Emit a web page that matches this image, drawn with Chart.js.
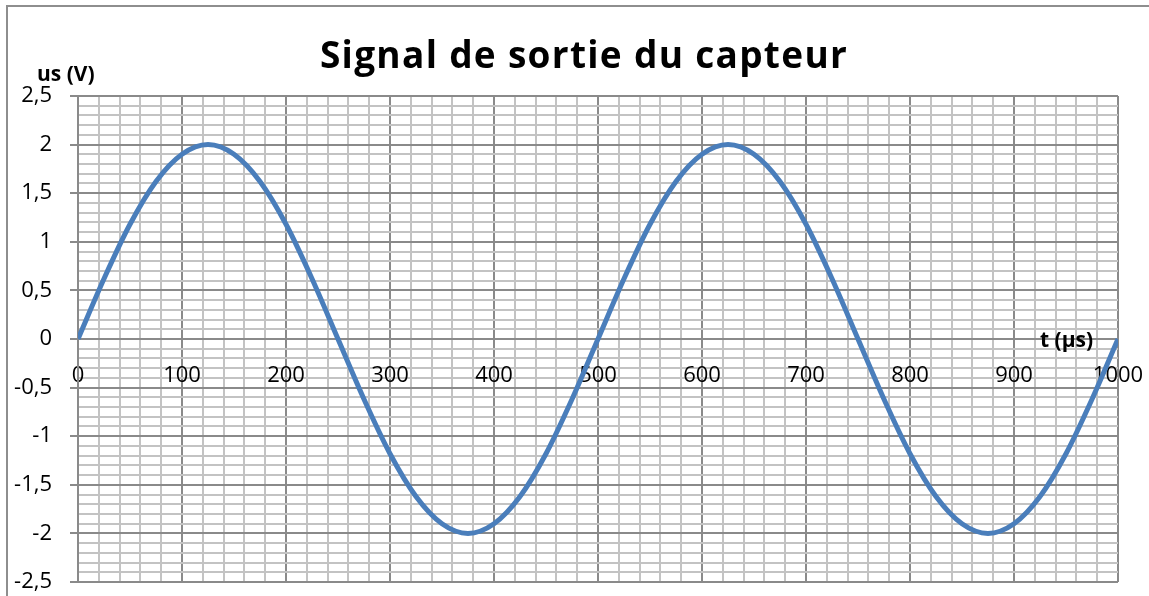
<!DOCTYPE html>
<html lang="fr">
<head>
    <meta charset="UTF-8">
    <title>Signal de sortie du capteur</title>
    <script src="https://cdn.jsdelivr.net/npm/chart.js"></script>
    <style>
        html, body { margin: 0; padding: 0; background: #fff; overflow: hidden; }
        #frame {
            position: absolute; left: 6px; top: 5px; width: 1200px; height: 700px;
            border-left: 2px solid #8e8e8e; border-top: 2px solid #8e8e8e;
        }
        #signal-chart { position: absolute; left: 0; top: 0; }
    </style>
</head>
<body>
    <div id="frame"></div>
    <canvas id="signal-chart" width="1149" height="596"></canvas>

    <script>
        // Temps (µs) et tension (V)
        const tValues = [0, 25, 50, 75, 100, 125, 150, 175, 200, 225,
                         250, 275, 300, 325, 350, 375, 400, 425, 450, 475,
                         500, 525, 550, 575, 600, 625, 650, 675, 700, 725,
                         750, 775, 800, 825, 850, 875, 900, 925, 950, 975, 1000];
        const usValues = [0, 0.62, 1.18, 1.62, 1.90, 2.00, 1.90, 1.62, 1.18, 0.62,
                          0, -0.62, -1.18, -1.62, -1.90, -2.00, -1.90, -1.62, -1.18, -0.62,
                          0, 0.62, 1.18, 1.62, 1.90, 2.00, 1.90, 1.62, 1.18, 0.62,
                          0, -0.62, -1.18, -1.62, -1.90, -2.00, -1.90, -1.62, -1.18, -0.62, 0];

        const chartTitle = 'Signal de sortie du capteur';
        const yAxisLabel = 'us (V)';
        const xAxisLabel = 't (µs)';

        const MAJOR = '#8a8a8a';
        const MINOR = '#c3c3c3';
        const FONT = '"Open Sans", "Noto Sans", sans-serif';

        // titre + noms des axes, placés comme dans Excel
        const labelsPlugin = {
            id: 'labels',
            afterDraw(chart) {
                const ctx = chart.ctx;
                ctx.save();
                ctx.fillStyle = '#000';
                ctx.textBaseline = 'alphabetic';
                ctx.font = 'bold 37px ' + FONT;
                ctx.letterSpacing = '1.3px';
                ctx.textAlign = 'center';
                ctx.fillText(chartTitle, 584, 68);
                ctx.letterSpacing = '0px';
                ctx.font = 'bold 21px ' + FONT;
                ctx.textAlign = 'left';
                ctx.fillText(yAxisLabel, 37, 81);
                ctx.fillText(xAxisLabel, 1040, 347);
                ctx.restore();
            }
        };

        const points = tValues.map((t, i) => ({ x: t, y: usValues[i] }));

        const ctx = document.getElementById('signal-chart').getContext('2d');
        new Chart(ctx, {
            type: 'line',
            data: {
                datasets: [{
                    data: points,
                    borderColor: '#4a7ebb',
                    borderWidth: 5,
                    pointRadius: 0,
                    cubicInterpolationMode: 'monotone',
                    fill: false,
                }],
            },
            plugins: [labelsPlugin],
            options: {
                responsive: false,
                animation: false,
                layout: { padding: { top: 96, right: 31, bottom: 14, left: 0 } },
                plugins: { legend: { display: false }, tooltip: { enabled: false } },
                scales: {
                    x: {
                        type: 'linear',
                        position: { y: 0 },
                        min: 0,
                        max: 1000,
                        // les libellés peuvent déborder, on garde la zone du graphe fixe
                        afterFit: scale => { scale.paddingLeft = 0; scale.paddingRight = 0; },
                        grid: {
                            drawTicks: false,
                            lineWidth: 2,
                            color: c => (c.tick && c.tick.value % 100 === 0) ? MAJOR : MINOR,
                        },
                        border: { color: MAJOR, width: 2 },
                        ticks: {
                            stepSize: 20,
                            autoSkip: false,
                            maxRotation: 0,
                            padding: 24,
                            color: '#000',
                            font: { family: FONT, size: 22 },
                            callback: v => (v % 100 === 0) ? String(v) : '',
                        },
                    },
                    y: {
                        min: -2.5,
                        max: 2.5,
                        afterFit: scale => {
                            scale.width = 78;
                            scale.paddingTop = 0;
                            scale.paddingBottom = 0;
                        },
                        grid: {
                            lineWidth: 2,
                            tickLength: 8,
                            color: c => isMajorY(c.tick && c.tick.value) ? MAJOR : MINOR,
                            tickColor: c => isMajorY(c.tick && c.tick.value) ? MAJOR : 'rgba(0,0,0,0)',
                        },
                        border: { color: MAJOR, width: 2 },
                        ticks: {
                            stepSize: 0.1,
                            maxTicksLimit: 100,
                            autoSkip: false,
                            padding: 18,
                            color: '#000',
                            font: { family: FONT, size: 22 },
                            callback: v => isMajorY(v) ? String(Math.round(v * 10) / 10).replace('.', ',') : '',
                        },
                    },
                },
            },
        });

        function isMajorY(v) {
            if (v === undefined || v === null) return false;
            return Math.abs(v * 2 - Math.round(v * 2)) < 1e-6;
        }
    </script>
</body>
</html>
